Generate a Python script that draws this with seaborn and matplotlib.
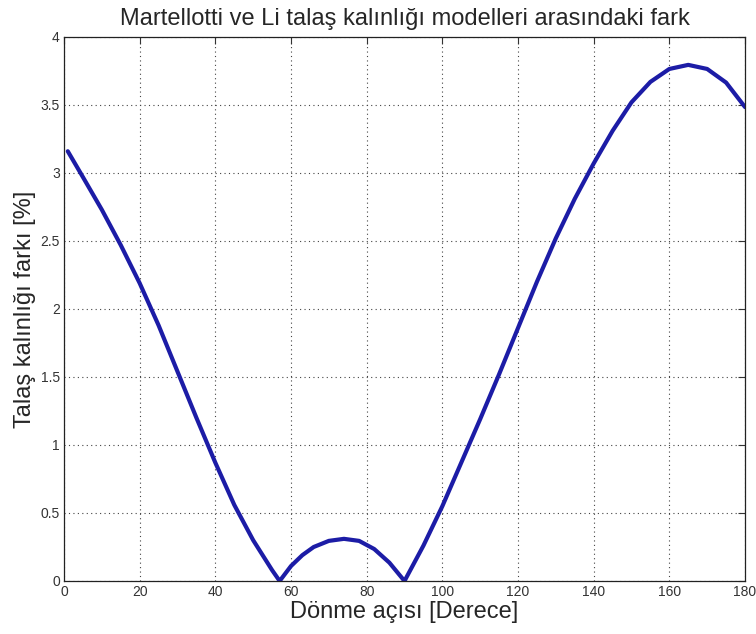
import numpy as np
import pandas as pd
import seaborn as sns
import matplotlib
matplotlib.use("Agg")
import matplotlib.pyplot as plt

# values
angle = [1, 5, 10, 15, 20, 25, 30, 35, 40, 45, 50, 55, 57,
         60, 63, 66, 70, 74, 78, 82, 86, 90,
         95, 100, 105, 110, 115, 120, 125, 130, 135, 140, 145,
         150, 155, 160, 165, 170, 175, 180]
diff_pct = [3.16, 2.97, 2.73, 2.47, 2.19, 1.88, 1.54, 1.20, 0.87, 0.56, 0.30, 0.08, 0.0,
            0.11, 0.19, 0.25, 0.295, 0.31, 0.295, 0.235, 0.135, 0.0,
            0.26, 0.55, 0.87, 1.19, 1.52, 1.86, 2.20, 2.52, 2.81, 3.07, 3.31,
            3.52, 3.67, 3.765, 3.795, 3.765, 3.665, 3.485]

x_ticks = [0, 20, 40, 60, 80, 100, 120, 140, 160, 180]
y_ticks = [0, 0.5, 1, 1.5, 2, 2.5, 3, 3.5, 4]
y_tick_labels = ["0", "0.5", "1", "1.5", "2", "2.5", "3", "3.5", "4"]

df = pd.DataFrame({"aci": angle, "fark": diff_pct})

sns.set_style("white")
plt.rcParams["font.family"] = ["Liberation Sans", "DejaVu Sans"]

fig = plt.figure(figsize=(7.56, 6.34), dpi=100)
ax = fig.add_axes([64 / 756, 53 / 634, 681 / 756, 544 / 634])

sns.lineplot(data=df, x="aci", y="fark", ax=ax, color="#1c1ca6", linewidth=3.0)

ax.set_xlim(0, 180)
ax.set_ylim(0, 4)
ax.set_xticks(x_ticks)
ax.set_yticks(y_ticks)
ax.set_yticklabels(y_tick_labels)
ax.grid(True, linestyle=(0, (1, 3)), color="#444444", linewidth=0.8)
ax.tick_params(direction="in", length=5, width=0.8, top=True, right=True,
               labelsize=10, colors="#333333", pad=3)
for s in ax.spines.values():
    s.set_color("#222222")
    s.set_linewidth(0.9)

ax.set_title("Martellotti ve Li talaş kalınlığı modelleri arasındaki fark",
             fontsize=17, pad=9)
ax.set_xlabel("Dönme açısı [Derece]", fontsize=17, labelpad=1)
ax.set_ylabel("Talaş kalınlığı farkı [%]", fontsize=17, labelpad=3)

fig.savefig("out.png", dpi=100)
